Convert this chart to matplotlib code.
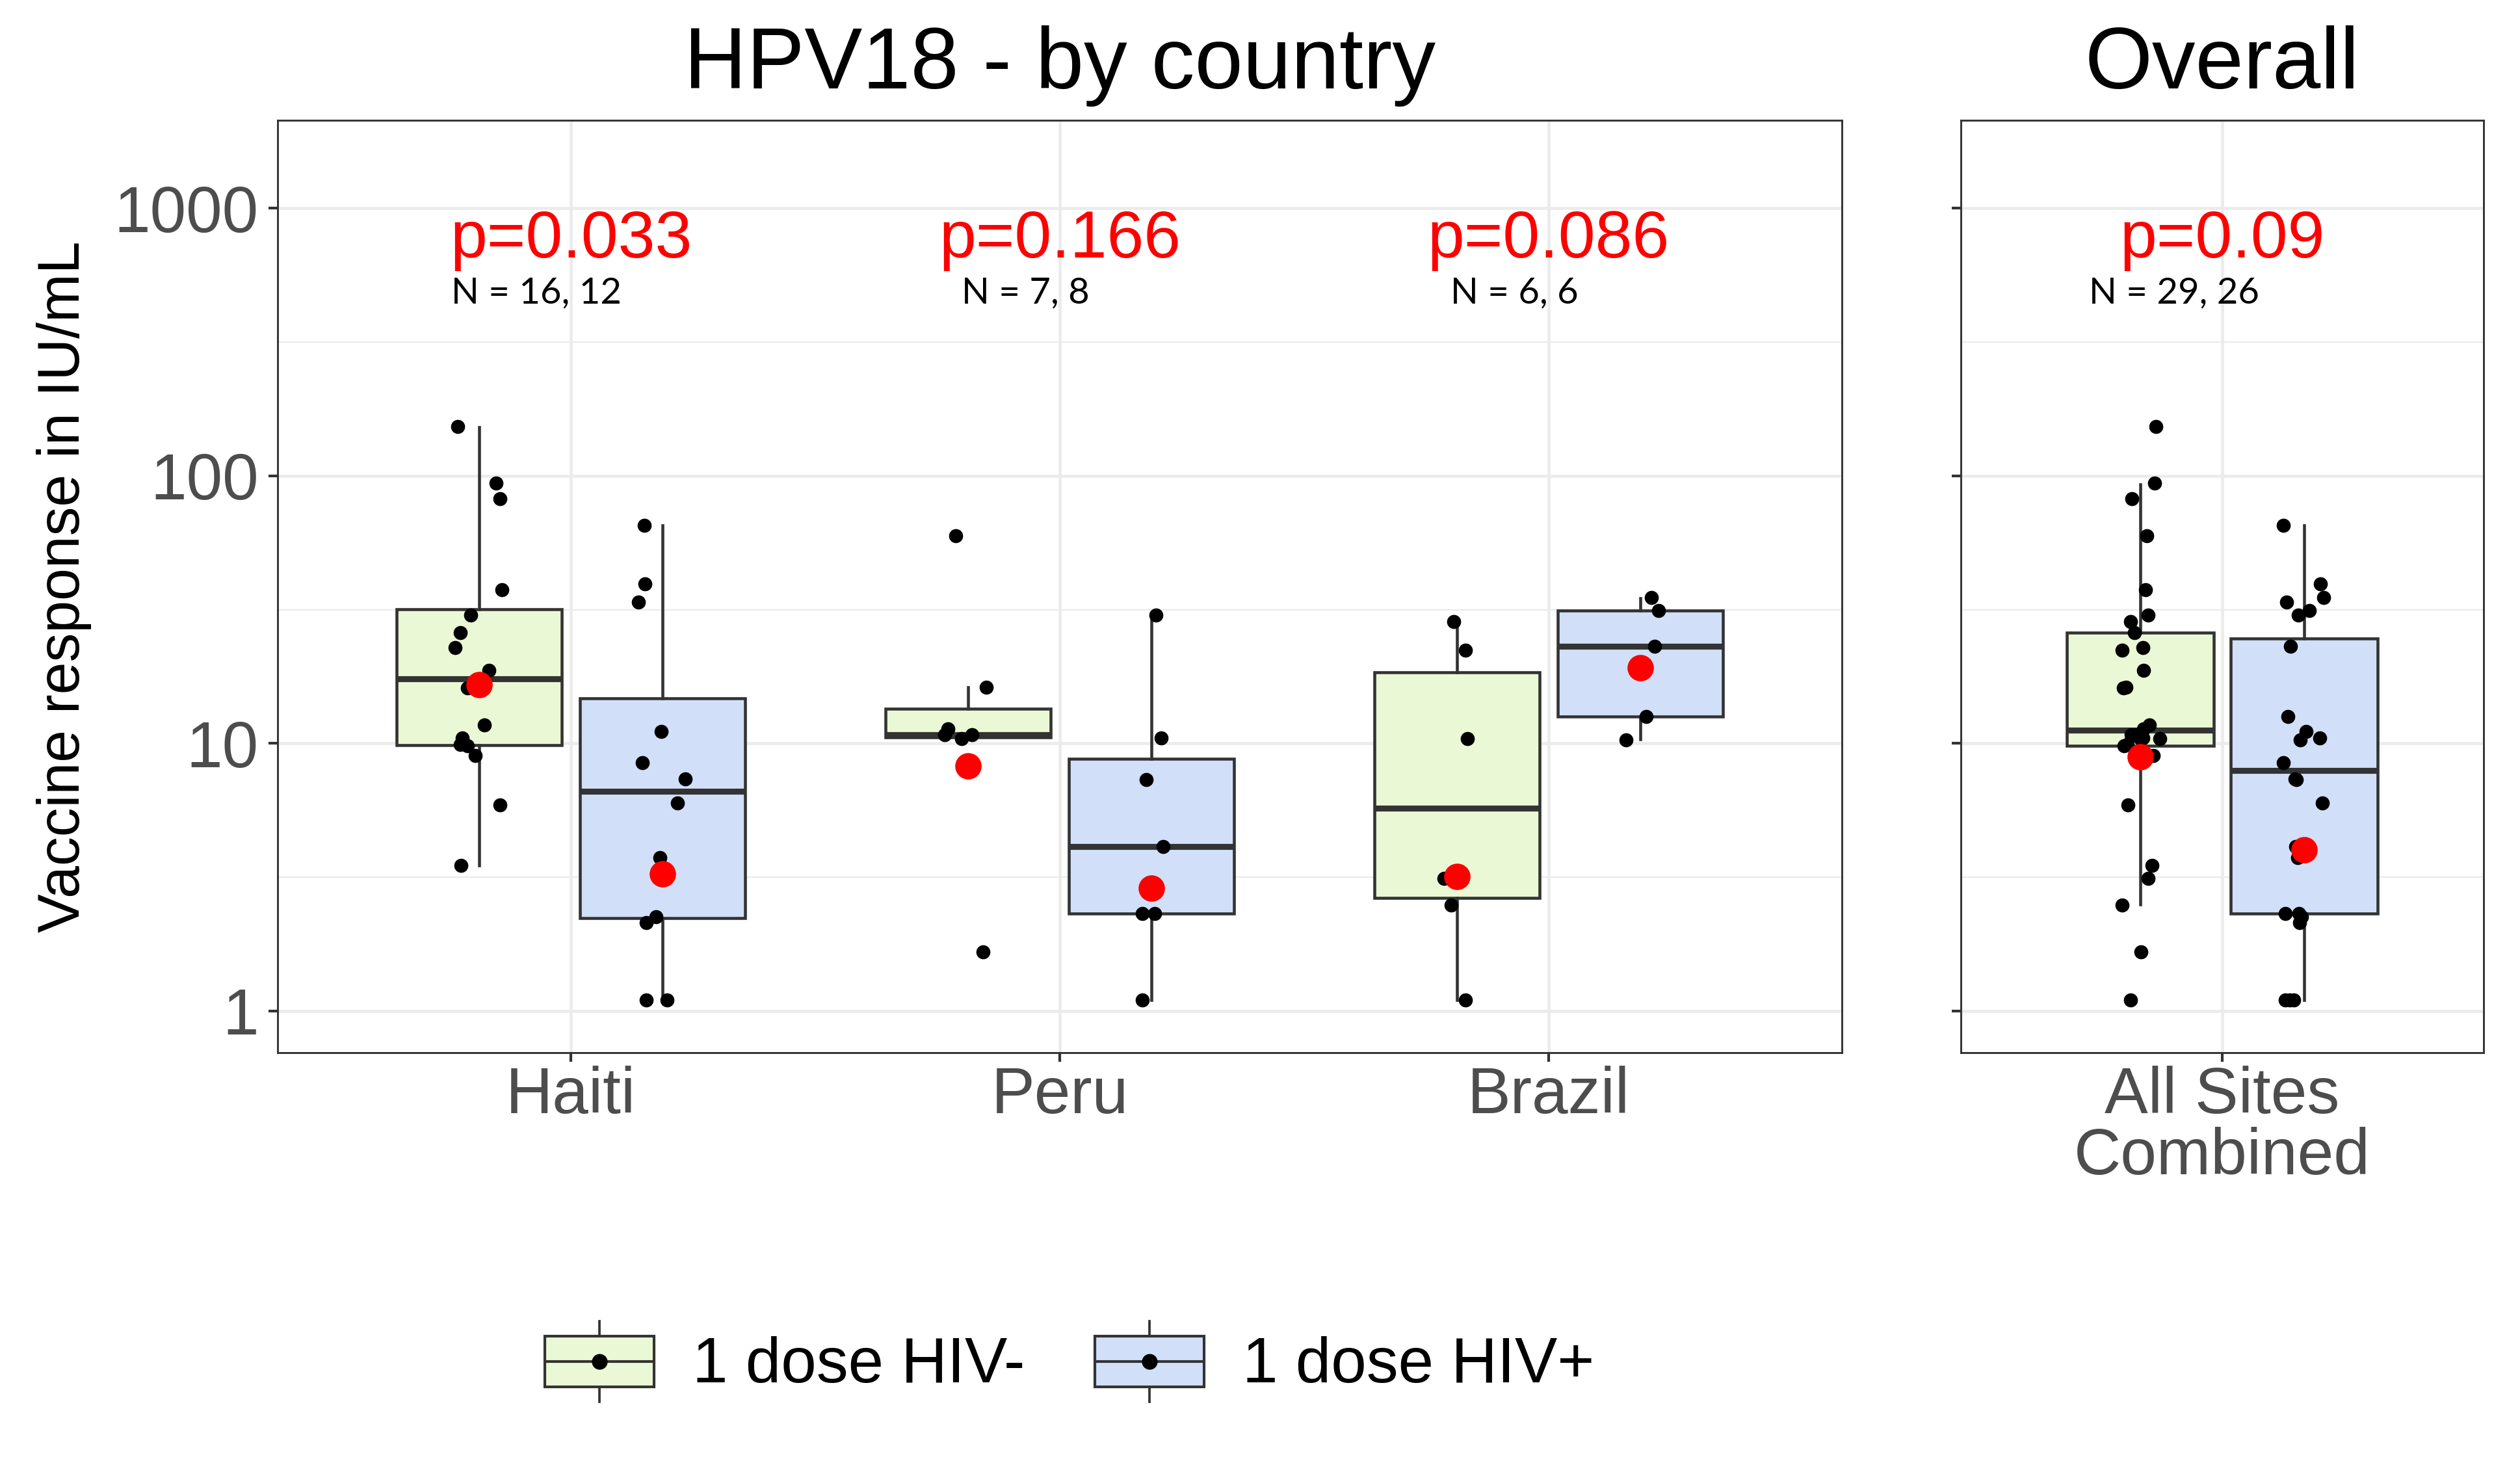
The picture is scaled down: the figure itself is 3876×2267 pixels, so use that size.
import numpy as np
import matplotlib
matplotlib.use("Agg")
import matplotlib.pyplot as plt
from matplotlib.patches import Rectangle
from matplotlib.lines import Line2D
from matplotlib.legend_handler import HandlerBase
from matplotlib.ticker import FixedLocator, NullFormatter, FixedFormatter

plt.rcParams['font.family'] = ['Liberation Sans', 'DejaVu Sans']

# ---------------- data ----------------
countries = ["Haiti", "Peru", "Brazil"]
overall_label = "All Sites\nCombined"
groups = ["1 dose HIV-", "1 dose HIV+"]
fill_colors = ["#EAF8D5", "#D1E0F8"]

p_country = ["p=0.033", "p=0.166", "p=0.086"]
n_country = ["N = 16, 12", "N = 7, 8", "N = 6, 6"]
p_overall = "p=0.09"
n_overall = "N = 29, 26"

# individual responses (IU/mL) and jitter offsets
haiti_neg = [153, 93.8, 82.2, 37.5, 30.1, 26.0, 22.8, 18.7, 16.1, 11.7, 10.5, 9.9, 9.8, 9.0, 5.9, 3.5]
haiti_neg_jit = [-0.044, 0.034, 0.043, 0.046, -0.018, -0.039, -0.050, 0.020, -0.024, 0.010, -0.035, -0.039, -0.024, -0.008, 0.042, -0.037]
haiti_neg_jit_all = [0.036, 0.033, -0.020, 0.011, 0.018, -0.014, 0.006, 0.007, -0.039, 0.021, 0.006, -0.030, -0.038, 0.029, -0.029, 0.027]

peru_neg = [59.7, 16.2, 11.3, 10.75, 10.4, 10.75, 1.66]
peru_neg_jit = [-0.025, 0.037, -0.041, -0.048, -0.013, 0.008, 0.030]
peru_neg_jit_all = [0.014, -0.033, 0.007, -0.021, 0.044, -0.015, 0.001]

brazil_neg = [28.6, 22.3, 10.4, 3.12, 2.49, 1.10]
brazil_neg_jit = [-0.006, 0.017, 0.022, -0.026, -0.012, 0.018]
brazil_neg_jit_all = [-0.023, -0.043, 0.000, 0.018, -0.043, -0.023]

haiti_pos = [65.4, 39.4, 33.8, 11.1, 8.49, 7.36, 5.98, 3.75, 2.25, 2.14, 1.1, 1.1]
haiti_pos_jit = [-0.037, -0.036, -0.050, -0.003, -0.042, 0.046, 0.030, -0.005, -0.014, -0.033, -0.033, 0.009]
haiti_pos_jit_all = [-0.047, 0.038, -0.040, 0.005, -0.047, -0.021, 0.043, -0.014, -0.006, -0.010, -0.042, -0.023]

peru_pos = [30.1, 10.5, 7.32, 4.11, 2.31, 2.31, 1.10]
peru_pos_jit = [0.009, 0.020, -0.011, 0.024, -0.018, 0.007, -0.019]
peru_pos_jit_all = [-0.013, 0.036, -0.018, -0.019, -0.043, -0.012, -0.033]

brazil_pos = [35.1, 31.3, 23.0, 12.6, 10.3]
brazil_pos_jit = [0.023, 0.037, 0.030, 0.012, -0.029]
brazil_pos_jit_all = [0.046, 0.012, -0.031, -0.037, -0.009]

# box statistics, order: Haiti, Peru, Brazil, All sites
neg_whislo = [3.5, 10.4, 1.10, 2.50]
neg_q1 = [9.86, 10.55, 2.64, 9.82]
neg_med = [17.4, 10.75, 5.71, 11.2]
neg_q3 = [31.8, 13.5, 18.4, 25.9]
neg_whishi = [152, 16.2, 28.5, 92.8]
neg_mean = [16.6, 8.23, 3.19, 8.89]

pos_whislo = [1.10, 1.10, 10.35, 1.10]
pos_q1 = [2.22, 2.31, 12.6, 2.31]
pos_med = [6.63, 4.11, 23.0, 7.90]
pos_q3 = [14.7, 8.77, 31.4, 24.6]
pos_whishi = [65.2, 30.1, 34.8, 65.2]
pos_mean = [3.26, 2.87, 19.2, 4.01]

y_ticks = [1, 10, 100, 1000]
y_tick_labels = ["1", "10", "100", "1000"]

# ---------------- figure ----------------
W, H = 3876, 2267
DPI = 300
fig = plt.figure(figsize=(W / DPI, H / DPI), dpi=DPI)
fig.patch.set_facecolor("white")

ax1 = fig.add_axes([427 / W, 1 - 1619 / H, (2833 - 427) / W, (1619 - 185) / H])
ax2 = fig.add_axes([3016 / W, 1 - 1619 / H, (3820 - 3016) / W, (1619 - 185) / H])

EDGE = "#333333"
GRID = "#EBEBEB"
DODGE = 0.1875
BOXW = 0.3375
ylo, yhi = 10 ** -0.156, 10 ** 3.329
TICK_FS = 24


def style_axis(ax, xticks, xlabels, show_ylabels):
    ax.set_yscale("log")
    ax.set_ylim(ylo, yhi)
    ax.yaxis.set_major_locator(FixedLocator(y_ticks))
    ax.yaxis.set_major_formatter(FixedFormatter(y_tick_labels))
    ax.yaxis.set_minor_locator(FixedLocator([10 ** 0.5, 10 ** 1.5, 10 ** 2.5]))
    ax.yaxis.set_minor_formatter(NullFormatter())
    ax.set_xticks(xticks)
    ax.set_xticklabels(xlabels, linespacing=1.0)
    ax.set_axisbelow(True)
    ax.grid(which="major", axis="both", color=GRID, linewidth=1.1)
    ax.grid(which="minor", axis="y", color=GRID, linewidth=0.55)
    ax.tick_params(axis="both", which="major", direction="out", length=3.4,
                   width=1.0, color=EDGE, labelsize=TICK_FS, labelcolor="#4D4D4D")
    ax.tick_params(axis="y", which="major", pad=3.6, labelleft=show_ylabels)
    ax.tick_params(axis="x", which="major", pad=1.5)
    ax.tick_params(axis="y", which="minor", length=0)
    for sp in ax.spines.values():
        sp.set_color(EDGE)
        sp.set_linewidth(0.7)


def draw_group(ax, pos, stats_list, fill):
    ax.bxp(stats_list, positions=pos, widths=BOXW, patch_artist=True,
           showfliers=False, showcaps=False, manage_ticks=False, zorder=2,
           boxprops=dict(facecolor=fill, edgecolor=EDGE, linewidth=1.1),
           medianprops=dict(color=EDGE, linewidth=2.2, solid_capstyle="butt"),
           whiskerprops=dict(color=EDGE, linewidth=1.1))


def stats(i, whislo, q1, med, q3, whishi):
    return dict(whislo=whislo[i], q1=q1[i], med=med[i], q3=q3[i], whishi=whishi[i])


neg_vals = [haiti_neg, peru_neg, brazil_neg]
neg_jits = [haiti_neg_jit, peru_neg_jit, brazil_neg_jit]
pos_vals = [haiti_pos, peru_pos, brazil_pos]
pos_jits = [haiti_pos_jit, peru_pos_jit, brazil_pos_jit]

# ----- country panel -----
xc = np.arange(1, len(countries) + 1)
draw_group(ax1, xc - DODGE, [stats(i, neg_whislo, neg_q1, neg_med, neg_q3, neg_whishi) for i in range(3)], fill_colors[0])
draw_group(ax1, xc + DODGE, [stats(i, pos_whislo, pos_q1, pos_med, pos_q3, pos_whishi) for i in range(3)], fill_colors[1])
for i in range(3):
    ax1.scatter(xc[i] - DODGE + np.array(neg_jits[i]), neg_vals[i], s=27, c="black", linewidths=0, zorder=3)
    ax1.scatter(xc[i] + DODGE + np.array(pos_jits[i]), pos_vals[i], s=27, c="black", linewidths=0, zorder=3)
ax1.scatter(xc - DODGE, neg_mean[:3], s=95, c="red", linewidths=0, zorder=4)
ax1.scatter(xc + DODGE, pos_mean[:3], s=95, c="red", linewidths=0, zorder=4)
for i in range(3):
    ax1.text(xc[i], 655, p_country[i], color="red", fontsize=24.5, ha="center", va="baseline")
    ax1.text(xc[i] - 0.07, 443, n_country[i], color="black", fontsize=13.5, ha="center",
             va="baseline", family=["Lato", "DejaVu Sans"])
ax1.set_xlim(0.4, 3.6)
style_axis(ax1, xc, countries, True)

# ----- overall panel -----
all_neg = haiti_neg + peru_neg + brazil_neg
all_neg_jit = haiti_neg_jit_all + peru_neg_jit_all + brazil_neg_jit_all
all_pos = haiti_pos + peru_pos + brazil_pos
all_pos_jit = haiti_pos_jit_all + peru_pos_jit_all + brazil_pos_jit_all

draw_group(ax2, [1 - DODGE], [stats(3, neg_whislo, neg_q1, neg_med, neg_q3, neg_whishi)], fill_colors[0])
draw_group(ax2, [1 + DODGE], [stats(3, pos_whislo, pos_q1, pos_med, pos_q3, pos_whishi)], fill_colors[1])
ax2.scatter(1 - DODGE + np.array(all_neg_jit), all_neg, s=27, c="black", linewidths=0, zorder=3)
ax2.scatter(1 + DODGE + np.array(all_pos_jit), all_pos, s=27, c="black", linewidths=0, zorder=3)
ax2.scatter([1 - DODGE], [neg_mean[3]], s=95, c="red", linewidths=0, zorder=4)
ax2.scatter([1 + DODGE], [pos_mean[3]], s=95, c="red", linewidths=0, zorder=4)
ax2.text(1, 655, p_overall, color="red", fontsize=24.5, ha="center", va="baseline")
ax2.text(1 - 0.11, 443, n_overall, color="black", fontsize=13.5, ha="center",
         va="baseline", family=["Lato", "DejaVu Sans"])
ax2.set_xlim(0.4, 1.6)
style_axis(ax2, [1], [overall_label], False)

# ----- titles and axis label -----
fig.text((427 + 2833) / 2 / W, 1 - 136 / H, "HPV18 - by country", fontsize=32,
         ha="center", va="baseline", color="black")
fig.text((3016 + 3820) / 2 / W, 1 - 136 / H, "Overall", fontsize=32,
         ha="center", va="baseline", color="black")
fig.text(99 / W, 1 - 902 / H, "Vaccine response in IU/mL", fontsize=21.5,
         rotation=90, ha="center", va="center", color="black")


# ----- legend -----
class BoxKeyHandler(HandlerBase):
    def __init__(self, fill):
        super().__init__()
        self.fill = fill

    def create_artists(self, legend, orig_handle, xdescent, ydescent, width,
                       height, fontsize, trans):
        x0, y0 = -xdescent, -ydescent
        bh = height * 0.63
        by = y0 + (height - bh) / 2
        xm = x0 + width / 2
        rect = Rectangle((x0, by), width, bh, facecolor=self.fill,
                         edgecolor=EDGE, linewidth=1.0, transform=trans)
        w1 = Line2D([xm, xm], [y0, by], color=EDGE, linewidth=0.9, transform=trans)
        w2 = Line2D([xm, xm], [by + bh, y0 + height], color=EDGE, linewidth=0.9, transform=trans)
        med = Line2D([x0, x0 + width], [y0 + height / 2] * 2, color=EDGE,
                     linewidth=1.0, solid_capstyle="butt", transform=trans)
        dot = Line2D([xm], [y0 + height / 2], marker="o", markersize=4.8,
                     color="black", linestyle="none", transform=trans)
        return [rect, w1, w2, med, dot]


h_neg = Rectangle((0, 0), 1, 1)
h_pos = Rectangle((0, 0), 1, 1)
fig.legend([h_neg, h_pos], groups,
           handler_map={h_neg: BoxKeyHandler(fill_colors[0]), h_pos: BoxKeyHandler(fill_colors[1])},
           loc="center", bbox_to_anchor=(1645 / W, 1 - 2094 / H), ncol=2, frameon=False,
           fontsize=23.5, handlelength=1.72, handleheight=1.57, handletextpad=0.6,
           columnspacing=1.1, borderpad=0, borderaxespad=0)

fig.savefig("out.png", dpi=DPI, facecolor="white")
